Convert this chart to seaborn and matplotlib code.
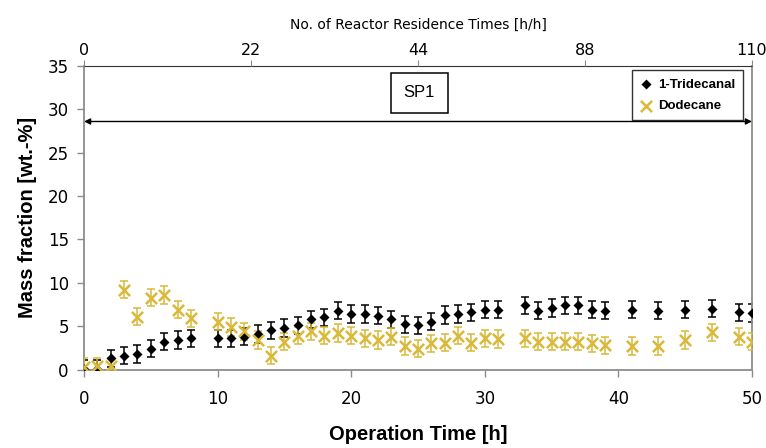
import seaborn as sns
import pandas as pd
import matplotlib.pyplot as plt

# operation time [h]
time_h = [0, 1, 2, 3, 4, 5, 6, 7, 8, 10, 11, 12, 13, 14, 15, 16, 17, 18, 19, 20,
          21, 22, 23, 24, 25, 26, 27, 28, 29, 30, 31, 33, 34, 35, 36, 37, 38, 39,
          41, 43, 45, 47, 49, 50]

tridecanal = [0.1, 0.1, 1.3, 1.6, 1.8, 2.4, 3.2, 3.4, 3.6, 3.6, 3.6, 3.8, 4.1, 4.5,
              4.8, 5.1, 5.8, 6.0, 6.8, 6.4, 6.4, 6.2, 5.8, 5.2, 5.1, 5.5, 6.3, 6.4,
              6.6, 6.9, 6.9, 7.4, 6.8, 7.1, 7.4, 7.4, 6.9, 6.8, 6.9, 6.8, 6.9, 7.0,
              6.6, 6.5]
tridecanal_err = 1.0

dodecane = [0.3, 0.35, 0.35, 9.2, 6.1, 8.3, 8.6, 6.9, 5.9, 5.5, 4.9, 4.4, 3.4, 1.6,
            3.2, 3.9, 4.4, 3.9, 4.2, 3.9, 3.6, 3.4, 3.8, 2.7, 2.4, 3.0, 3.1, 3.9,
            3.1, 3.6, 3.5, 3.6, 3.2, 3.2, 3.2, 3.2, 3.0, 2.8, 2.7, 2.7, 3.4, 4.3,
            3.8, 3.2]
dodecane_err = 1.0

top_tick_pos = [0, 12.5, 25, 37.5, 50]
top_tick_labels = ['0', '22', '44', '88', '110']

df = pd.DataFrame({"time": time_h, "1-Tridecanal": tridecanal, "Dodecane": dodecane})

sns.set_style("white")
plt.rcParams['font.family'] = ['DejaVu Sans']
plt.rcParams['text.color'] = 'black'
plt.rcParams['axes.labelcolor'] = 'black'

gold = '#D9B93A'
grey = '#8c8c8c'

fig = plt.figure(figsize=(7.66, 4.48), dpi=100)
ax = fig.add_axes([0.1097, 0.1752, 0.872, 0.6775])

ax.errorbar(df["time"], df["1-Tridecanal"], yerr=tridecanal_err, fmt='none',
            ecolor='black', elinewidth=1.1, capsize=3.2, capthick=1.1, zorder=2)
ax.errorbar(df["time"], df["Dodecane"], yerr=dodecane_err, fmt='none',
            ecolor=gold, elinewidth=1.1, capsize=3.2, capthick=1.1, zorder=3)
sns.scatterplot(x="time", y="1-Tridecanal", data=df, marker='D', color='black',
                s=26, edgecolor='black', linewidth=0, label='1-Tridecanal', ax=ax, zorder=4)
sns.scatterplot(x="time", y="Dodecane", data=df, marker='x', color=gold,
                s=65, linewidth=1.8, label='Dodecane', ax=ax, zorder=5)

ax.set_xlim(0, 50)
ax.set_ylim(0, 35)
ax.set_xticks([0, 10, 20, 30, 40, 50])
ax.set_yticks([0, 5, 10, 15, 20, 25, 30, 35])
ax.tick_params(axis='both', direction='out', length=5, width=1, color=grey,
               labelcolor='black', labelsize=12, pad=6, left=True, bottom=True)
ax.tick_params(axis='x', pad=10)
for side in ['left', 'bottom', 'right']:
    ax.spines[side].set_color(grey)
    ax.spines[side].set_linewidth(1.3)
ax.spines['top'].set_color('#333333')

ax.set_xlabel("Operation Time [h]", fontsize=14.5, fontweight='bold',
              family='Liberation Sans', labelpad=12)
ax.set_ylabel("Mass fraction [wt.-%]", fontsize=14.5, fontweight='bold',
              family='Liberation Sans', labelpad=8)

# double arrow for SP1
ax.annotate('', xy=(0, 28.6), xytext=(50, 28.6),
            arrowprops=dict(arrowstyle='<|-|>', color='black', lw=1,
                            mutation_scale=9, shrinkA=0, shrinkB=0))
ax.text(25.1, 31.9, "SP1", ha='center', va='center', fontsize=12, family='Liberation Sans',
        bbox=dict(boxstyle='square,pad=0.75', facecolor='white', edgecolor='black',
                  linewidth=1.1))

leg = ax.legend(loc='upper right', bbox_to_anchor=(0.997, 1.007), frameon=True,
                fancybox=False, edgecolor='black', handletextpad=0.4,
                handlelength=1.0, borderpad=0.6, labelspacing=0.7,
                prop={'family': 'Liberation Sans', 'weight': 'bold', 'size': 9.5})
leg.get_frame().set_linewidth(1.0)

# top axis: reactor residence times
ax2 = ax.twiny()
ax2.set_xlim(0, 50)
ax2.set_xticks(top_tick_pos)
ax2.set_xticklabels(top_tick_labels)
ax2.tick_params(axis='x', direction='out', length=4, color=grey, labelcolor='black',
                labelsize=11.5, pad=2)
ax2.set_xlabel("No. of Reactor Residence Times [h/h]", fontsize=10, labelpad=10)
for side in ['left', 'bottom', 'right', 'top']:
    ax2.spines[side].set_visible(False)

plt.savefig("out.png", dpi=100)
plt.close()
